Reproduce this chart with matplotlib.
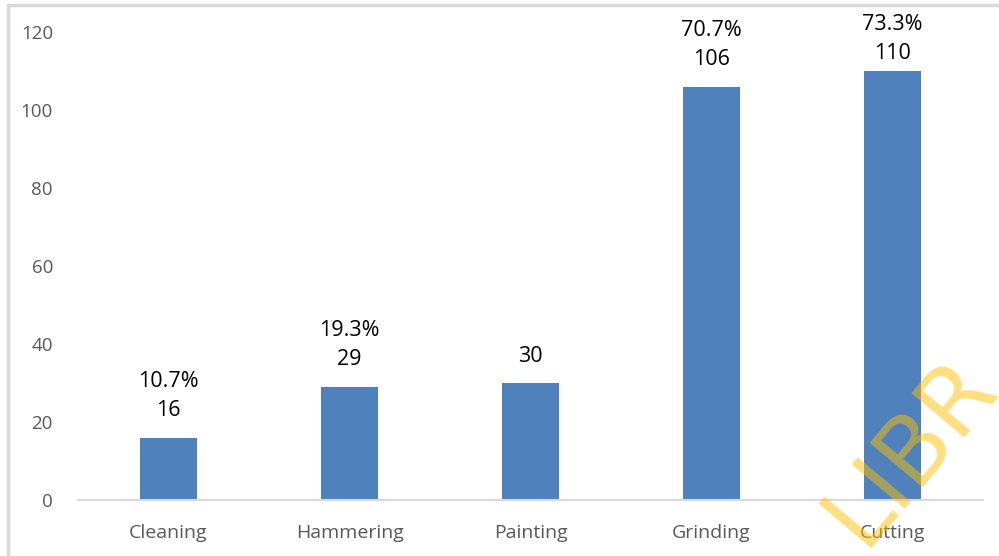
import matplotlib.pyplot as plt
from matplotlib.patches import Rectangle

# Data
tasks = ['Cleaning', 'Hammering', 'Painting', 'Grinding', 'Cutting']
counts = [16, 29, 30, 106, 110]
percents = ['10.7%', '19.3%', '', '70.7%', '73.3%']
y_ticks = [0, 20, 40, 60, 80, 100, 120]

plt.rcParams['font.family'] = ['Open Sans', 'DejaVu Sans']

fig = plt.figure(figsize=(9.99, 5.56), dpi=100)
ax = fig.add_axes([78 / 999, 1 - 500 / 556, 905 / 999, 468 / 556])

x = list(range(len(tasks)))
ax.bar(x, counts, width=0.32, color='#4f81bd', zorder=2)

ax.set_xlim(-0.5, len(tasks) - 0.5)
ax.set_ylim(0, 120)
ax.set_yticks(y_ticks)
ax.set_xticks(x)
ax.set_xticklabels(tasks)

for side in ['top', 'right', 'left']:
    ax.spines[side].set_visible(False)
ax.spines['bottom'].set_color('#d9d9d9')
ax.spines['bottom'].set_linewidth(1.5)
ax.tick_params(axis='both', length=0, colors='#595959')
ax.tick_params(axis='x', pad=17, labelsize=14)
ax.tick_params(axis='y', pad=18, labelsize=13.5)

# value and percent labels above each bar (pushed down near the top, like Excel does)
unit = 468 / 120  # pixels per data unit
for xi, c, p in zip(x, counts, percents):
    vy = min(c + 27 / unit, 114.5)
    ax.text(xi, vy, str(c), ha='center', va='center', fontsize=15.5,
            color='black', clip_on=False)
    if p:
        ax.text(xi, vy + 29 / unit, p, ha='center', va='center', fontsize=15.5,
                color='black', clip_on=False)

# light frame around the chart
fig.patches.append(Rectangle((8 / 999, -0.1), 1.2, 1 - 5 / 556 + 0.1,
                             transform=fig.transFigure, fill=False,
                             edgecolor='#d9d9d9', linewidth=2.5))

# watermark
fig.text(0.912, 0.19, 'LIBR', rotation=50, fontsize=68, color='#ffc000',
         alpha=0.5, ha='center', va='center', family='DejaVu Sans')

fig.savefig('out.png', dpi=100)
